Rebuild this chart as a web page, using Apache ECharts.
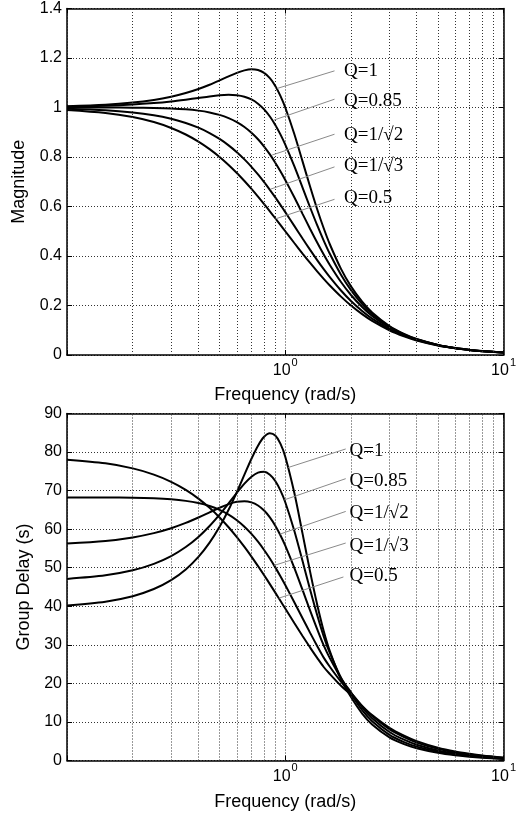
<!DOCTYPE html>
<html>
<head>
<meta charset="utf-8">
<script src="https://cdn.jsdelivr.net/npm/echarts@6/dist/echarts.min.js"></script>
<style>
html,body{margin:0;padding:0;background:#fff;}
#chart{width:519px;height:814px;}
</style>
</head>
<body>
<div id="chart"></div>
<script>
// ---------- data ----------
const freq = [0.1, 0.15, 0.2, 0.25, 0.3, 0.35, 0.4, 0.45, 0.5, 0.55,
  0.6, 0.65, 0.7, 0.75, 0.8, 0.85, 0.9, 0.95, 1.0,
  1.1, 1.2, 1.3, 1.4, 1.5, 1.6, 1.8, 2.0,
  2.25, 2.5, 3.0, 3.5, 4.0, 5.0, 6.0, 7.0, 8.0, 10.0];

const qLabels = ['Q=1', 'Q=0.85', 'Q=1/\u221A2', 'Q=1/\u221A3', 'Q=0.5'];

// Magnitude
const magQ1 = [1.005, 1.0112, 1.0198, 1.0307, 1.0436, 1.0585, 1.0748, 1.0921, 1.1094, 1.1258,
  1.1399, 1.1501, 1.1546, 1.1517, 1.1399, 1.1184, 1.0871, 1.0471, 1.0,
  0.893, 0.7824, 0.6795, 0.5891, 0.5121, 0.4475, 0.348, 0.2774,
  0.2153, 0.172, 0.117, 0.0849, 0.0644, 0.0408, 0.0282, 0.0206, 0.0157, 0.01];
const magQ085 = [1.003, 1.0067, 1.0117, 1.0178, 1.0245, 1.0317, 1.0386, 1.0447, 1.0491, 1.0511,
  1.0495, 1.0435, 1.0324, 1.0154, 0.9924, 0.9636, 0.9296, 0.8913, 0.85,
  0.7627, 0.6762, 0.596, 0.5245, 0.4624, 0.409, 0.3244, 0.2623,
  0.2062, 0.1662, 0.1144, 0.0835, 0.0636, 0.0405, 0.028, 0.0205, 0.0157, 0.01];
const magQ0707 = [1.0, 0.9998, 0.9992, 0.998, 0.996, 0.9926, 0.9874, 0.9801, 0.9701, 0.9572,
  0.9409, 0.9212, 0.898, 0.8716, 0.8423, 0.8106, 0.7771, 0.7424, 0.7071,
  0.6371, 0.5704, 0.5092, 0.4545, 0.4061, 0.3639, 0.2949, 0.2425,
  0.1938, 0.158, 0.1104, 0.0814, 0.0624, 0.04, 0.0278, 0.0204, 0.0156, 0.01];
const magQ0577 = [0.995, 0.9887, 0.9798, 0.9684, 0.9543, 0.9376, 0.9184, 0.8968, 0.8729, 0.847,
  0.8193, 0.7903, 0.7603, 0.7295, 0.6985, 0.6675, 0.6368, 0.6067, 0.5774,
  0.5217, 0.4707, 0.4246, 0.3834, 0.3468, 0.3145, 0.2605, 0.2182,
  0.1776, 0.1469, 0.1048, 0.0783, 0.0605, 0.0392, 0.0274, 0.0202, 0.0155, 0.01];
const magQ05 = [0.9901, 0.978, 0.9615, 0.9412, 0.9174, 0.8909, 0.8621, 0.8316, 0.8, 0.7678,
  0.7353, 0.703, 0.6711, 0.64, 0.6098, 0.5806, 0.5525, 0.5256, 0.5,
  0.4525, 0.4098, 0.3718, 0.3378, 0.3077, 0.2809, 0.2359, 0.2,
  0.165, 0.1379, 0.1, 0.0755, 0.0588, 0.0385, 0.027, 0.02, 0.0154, 0.0099];

// Group delay
const gdQ1 = [40.19, 41.19, 42.61, 44.47, 46.78, 49.55, 52.8, 56.5, 60.62, 65.04,
  69.63, 74.13, 78.26, 81.66, 83.96, 84.89, 84.29, 82.19, 78.8,
  69.43, 58.85, 48.93, 40.47, 33.59, 28.39, 21.03, 16.45,
  12.18, 9.35, 6.0, 4.26, 3.18, 2.0, 1.36, 0.99, 0.74, 0.4];
const gdQ085 = [47.1, 48.04, 49.34, 51.01, 53.03, 55.38, 58.0, 60.83, 63.77, 66.7,
  69.44, 71.8, 73.61, 74.67, 74.86, 74.13, 72.5, 70.06, 66.98,
  59.6, 51.72, 44.29, 37.75, 32.21, 27.91, 21.48, 17.24,
  13.05, 10.18, 6.66, 4.78, 3.59, 2.27, 1.55, 1.13, 0.84, 0.47];
const gdQ0707 = [56.27, 56.94, 57.86, 58.97, 60.25, 61.62, 63.02, 64.36, 65.55, 66.49,
  67.09, 67.26, 66.95, 66.14, 64.83, 63.06, 60.9, 58.42, 55.72,
  49.97, 44.23, 38.87, 34.07, 29.87, 26.56, 21.35, 17.69,
  13.79, 10.98, 7.4, 5.39, 4.09, 2.61, 1.79, 1.31, 0.98, 0.56];
const gdQ0577 = [68.24, 68.21, 68.14, 67.99, 67.74, 67.34, 66.77, 65.99, 64.99, 63.76,
  62.31, 60.63, 58.77, 56.75, 54.6, 52.37, 50.09, 47.79, 45.5,
  41.05, 36.89, 33.1, 29.7, 26.68, 24.32, 20.43, 17.55,
  14.15, 11.58, 8.1, 6.04, 4.65, 3.03, 2.09, 1.54, 1.17, 0.68];
const gdQ05 = [78.02, 77.07, 75.77, 74.16, 72.29, 70.2, 67.93, 65.53, 63.04, 60.5,
  57.94, 55.4, 52.89, 50.43, 48.05, 45.75, 43.54, 41.42, 39.4,
  35.66, 32.29, 29.29, 26.62, 24.25, 22.43, 19.38, 17.06,
  14.1, 11.77, 8.48, 6.45, 5.04, 3.33, 2.33, 1.73, 1.31, 0.78];

// Tick labels (decade ticks) and minor grid positions
const xTickValues = [1, 10];
const xTickBase = ['10', '10'];
const xTickExp = ['0', '1'];
const minorGrid = [0.2, 0.3, 0.4, 0.5, 0.6, 0.7, 0.8, 0.9, 2, 3, 4, 5, 6, 7, 8, 9];

// Annotation anchors (data coordinates)
const labelTop = [[1.87, 1.144], [1.87, 1.025], [1.87, 0.888], [1.87, 0.760], [1.87, 0.632]];
const leaderTop = [
  [[1.681, 1.148], [0.918, 1.077]],
  [[1.681, 1.0335], [0.886, 0.949]],
  [[1.681, 0.892], [0.871, 0.808]],
  [[1.681, 0.760], [0.856, 0.670]],
  [[1.681, 0.629], [0.902, 0.550]]
];
const labelBot = [[1.98, 80.2], [1.98, 72.3], [1.98, 64.0], [1.98, 55.6], [1.98, 47.6]];
const leaderBot = [
  [[1.892, 80.8], [1.032, 76.0]],
  [[1.892, 73.1], [0.99, 67.6]],
  [[1.892, 64.6], [0.944, 58.7]],
  [[1.892, 56.4], [0.889, 50.6]],
  [[1.847, 47.6], [0.934, 42.1]]
];

// ---------- chart ----------
const SANS = "'Liberation Sans', Arial, Helvetica, sans-serif";
const SERIF = "'Liberation Serif', 'DejaVu Serif', serif";
const GRIDLINE = {color: '#333', width: 1, type: [1, 2]};

function pairs(vals) { return freq.map((f, i) => [f, vals[i]]); }

function xLabelFormatter(v) {
  for (let i = 0; i < xTickValues.length; i++) {
    if (Math.abs(Math.log10(v) - Math.log10(xTickValues[i])) < 1e-6) {
      return '{b|' + xTickBase[i] + '}{s|' + xTickExp[i] + '}';
    }
  }
  return '';
}

function xAxes(gridIndex, nameGap) {
  return [
    {
      type: 'log', logBase: 10, min: 0.1, max: 10, gridIndex: gridIndex, position: 'bottom',
      name: 'Frequency (rad/s)', nameLocation: 'middle', nameGap: nameGap,
      nameTextStyle: {fontFamily: SANS, fontSize: 18, color: '#000'},
      axisLine: {show: true, onZero: false, lineStyle: {color: '#000', width: 1.5}},
      axisTick: {show: true, inside: true, length: 5, lineStyle: {color: '#000'}},
      splitLine: {show: true, lineStyle: GRIDLINE},
      axisLabel: {
        margin: 8, formatter: xLabelFormatter, color: '#000',
        rich: {
          b: {fontFamily: SANS, fontSize: 16, color: '#000', verticalAlign: 'bottom', lineHeight: 16},
          s: {fontFamily: SANS, fontSize: 11, color: '#000', verticalAlign: 'bottom', lineHeight: 11, padding: [0, 0, 11, 1]}
        }
      }
    },
    {
      type: 'log', logBase: 10, min: 0.1, max: 10, gridIndex: gridIndex, position: 'top',
      axisLine: {show: true, onZero: false, lineStyle: {color: '#000', width: 1.5}},
      axisTick: {show: true, inside: true, length: 5, lineStyle: {color: '#000'}},
      splitLine: {show: false}, axisLabel: {show: false}
    }
  ];
}

function yAxes(gridIndex, max, interval, name, nameGap) {
  return [
    {
      type: 'value', min: 0, max: max, interval: interval, gridIndex: gridIndex, position: 'left',
      name: name, nameLocation: 'middle', nameGap: nameGap,
      nameTextStyle: {fontFamily: SANS, fontSize: 18, color: '#000'},
      axisLine: {show: true, onZero: false, lineStyle: {color: '#000', width: 1.5}},
      axisTick: {show: true, inside: true, length: 5, lineStyle: {color: '#000'}},
      splitLine: {show: true, lineStyle: GRIDLINE},
      axisLabel: {margin: 5, fontFamily: SANS, fontSize: 16, color: '#000'}
    },
    {
      type: 'value', min: 0, max: max, interval: interval, gridIndex: gridIndex, position: 'right',
      axisLine: {show: true, onZero: false, lineStyle: {color: '#000', width: 1.5}},
      axisTick: {show: true, inside: true, length: 5, lineStyle: {color: '#000'}},
      splitLine: {show: false}, axisLabel: {show: false}
    }
  ];
}

function gridSeries(xi, yi) {
  return {
    type: 'line', xAxisIndex: xi, yAxisIndex: yi, data: [], z: 1, silent: true,
    markLine: {
      silent: true, symbol: ['none', 'none'], animation: false,
      label: {show: false},
      lineStyle: GRIDLINE,
      data: minorGrid.map(v => ({xAxis: v}))
    }
  };
}

function curveSeries(vals, k, xi, yi, labelPos, leader) {
  return {
    type: 'line', xAxisIndex: xi, yAxisIndex: yi, name: qLabels[k],
    data: pairs(vals), smooth: 0.3, symbol: 'none', z: 3,
    lineStyle: {color: '#000', width: 2},
    markLine: {
      silent: true, symbol: ['none', 'none'], animation: false,
      label: {show: false},
      lineStyle: {color: '#8a8a8a', width: 1, type: 'solid'},
      data: [[{coord: leader[k][0]}, {coord: leader[k][1]}]]
    },
    markPoint: {
      silent: true, animation: false, symbol: 'circle', symbolSize: 1,
      itemStyle: {color: 'rgba(0,0,0,0)'},
      label: {
        show: true, position: [0, 0], align: 'left', verticalAlign: 'middle',
        fontFamily: SERIF, fontSize: 19, color: '#000',
        formatter: qLabels[k]
      },
      data: [{coord: labelPos[k]}]
    }
  };
}

const magSets = [magQ1, magQ085, magQ0707, magQ0577, magQ05];
const gdSets = [gdQ1, gdQ085, gdQ0707, gdQ0577, gdQ05];

const series = [gridSeries(0, 0), gridSeries(2, 2)];
magSets.forEach((v, k) => series.push(curveSeries(v, k, 0, 0, labelTop, leaderTop)));
gdSets.forEach((v, k) => series.push(curveSeries(v, k, 2, 2, labelBot, leaderBot)));

const chart = echarts.init(document.getElementById('chart'), null, {renderer: 'canvas'});
chart.setOption({
  animation: false,
  backgroundColor: '#fff',
  grid: [
    {left: 67, right: 13, top: 8.5, height: 346.5},
    {left: 67, right: 13, top: 413.5, height: 347}
  ],
  xAxis: xAxes(0, 31).concat(xAxes(1, 33)),
  yAxis: yAxes(0, 1.4, 0.2, 'Magnitude', 39).concat(yAxes(1, 90, 10, 'Group Delay (s)', 32)),
  series: series
});
</script>
</body>
</html>
